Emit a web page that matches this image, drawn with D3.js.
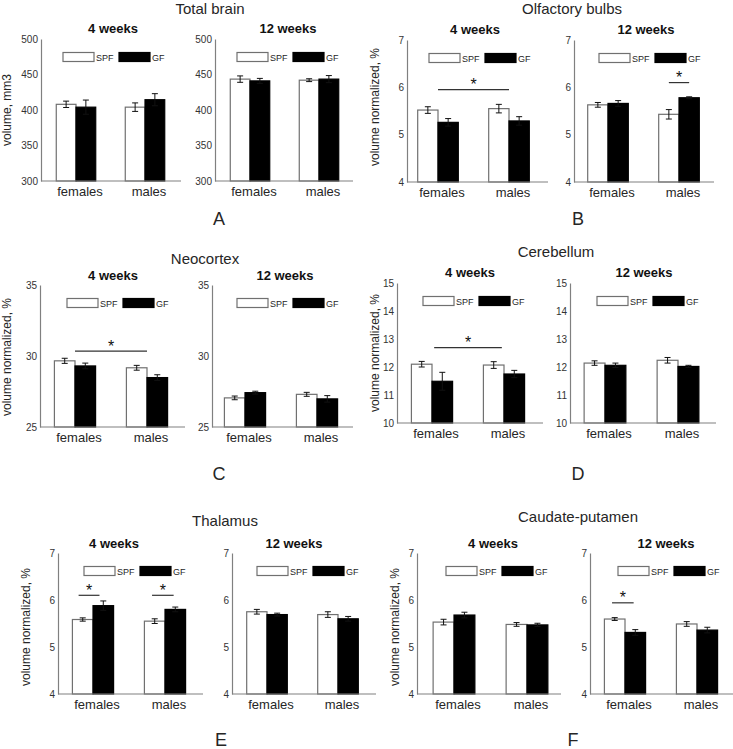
<!DOCTYPE html>
<html><head><meta charset="utf-8">
<script src="https://cdn.jsdelivr.net/npm/d3@7"></script>
<style>body{margin:0;background:#fff}svg{display:block;font-family:"Liberation Sans",Arial,sans-serif}</style>
</head><body>
<script>
// ---------- data ----------
const categories = ["females", "males"];
const seriesNames = ["SPF", "GF"];
const weekLabels = ["4 weeks", "12 weeks"];
const regionTitles = ["Total brain", "Olfactory bulbs", "Neocortex", "Cerebellum", "Thalamus", "Caudate-putamen"];
const panelLetters = ["A", "B", "C", "D", "E", "F"];
const yLabels = ["volume, mm3", "volume normalized, %", "volume normalized, %", "volume normalized, %", "volume normalized, %", "volume normalized, %"];

// y tick values
const totalBrainTicks = [300, 350, 400, 450, 500];
const olfactoryTicks = [4, 5, 6, 7];
const neocortexTicks = [25, 30, 35];
const cerebellumTicks = [10, 11, 12, 13, 14, 15];
const thalamusTicks = [4, 5, 6, 7];
const caudateTicks = [4, 5, 6, 7];

// means: rows = females, males ; cols = SPF, GF
const totalBrain4wMean = [[408, 404], [404, 414.5]];
const totalBrain4wErr = [[4.5, 10], [6, 8.5]];
const totalBrain12wMean = [[443.5, 441], [442, 443.5]];
const totalBrain12wErr = [[4.5, 3.5], [2, 5]];

const olfactory4wMean = [[5.52, 5.26], [5.55, 5.29]];
const olfactory4wErr = [[0.07, 0.08], [0.09, 0.09]];
const olfactory12wMean = [[5.63, 5.66], [5.43, 5.78]];
const olfactory12wErr = [[0.05, 0.06], [0.1, 0.02]];

const neocortex4wMean = [[29.66, 29.3], [29.17, 28.48]];
const neocortex4wErr = [[0.18, 0.2], [0.17, 0.2]];
const neocortex12wMean = [[27.05, 27.42], [27.3, 26.98]];
const neocortex12wErr = [[0.13, 0.1], [0.14, 0.23]];

const cerebellum4wMean = [[12.1, 11.49], [12.07, 11.75]];
const cerebellum4wErr = [[0.1, 0.32], [0.12, 0.13]];
const cerebellum12wMean = [[12.14, 12.06], [12.24, 12.02]];
const cerebellum12wErr = [[0.08, 0.08], [0.1, 0.04]];

const thalamus4wMean = [[5.585, 5.88], [5.55, 5.8]];
const thalamus4wErr = [[0.035, 0.1], [0.05, 0.05]];
const thalamus12wMean = [[5.75, 5.69], [5.69, 5.6]];
const thalamus12wErr = [[0.05, 0.03], [0.06, 0.05]];

const caudate4wMean = [[5.53, 5.68], [5.48, 5.47]];
const caudate4wErr = [[0.06, 0.06], [0.04, 0.035]];
const caudate12wMean = [[5.595, 5.31], [5.49, 5.36]];
const caudate12wErr = [[0.03, 0.06], [0.05, 0.06]];

// significance brackets: [x from, x to (category units, 1 = females, 2 = males), level]
const olfactory4wSig = [[1, 2, 5.95]];
const olfactory12wSig = [[1.857, 2.143, 6.1]];
const neocortex4wSig = [[1, 2, 30.34]];
const cerebellum4wSig = [[1.03, 1.97, 12.69]];
const thalamus4wSig = [[0.8, 1.09, 6.1], [1.82, 2.12, 6.1]];
const caudate12wSig = [[0.82, 1.12, 5.94]];

// ---------- layout (pixels) ----------
const regions = [
  {ticks: totalBrainTicks, data: [[totalBrain4wMean, totalBrain4wErr, []], [totalBrain12wMean, totalBrain12wErr, []]],
   top: 39, bottom: 181, axes: [[41, 181, 76, 145, 22], [215, 353, 250, 319, 22]],
   title: [210, 14], subs: [[113, 33], [288, 33]], letter: [219, 225], ylab: [11, 110]},
  {ticks: olfactoryTicks, data: [[olfactory4wMean, olfactory4wErr, olfactory4wSig], [olfactory12wMean, olfactory12wErr, olfactory12wSig]],
   top: 40, bottom: 182, axes: [[407, 548, 438, 509, 22], [574, 714, 608, 679, 25]],
   title: [572, 14], subs: [[475, 34], [646, 34]], letter: [578, 225], ylab: [379, 107]},
  {ticks: neocortexTicks, data: [[neocortex4wMean, neocortex4wErr, neocortex4wSig], [neocortex12wMean, neocortex12wErr, []]],
   top: 285, bottom: 427, axes: [[40, 185, 75, 147, 27], [212, 353, 245, 317, 25]],
   title: [205, 264], subs: [[113, 280], [285, 280]], letter: [219, 480], ylab: [11, 357]},
  {ticks: cerebellumTicks, data: [[cerebellum4wMean, cerebellum4wErr, cerebellum4wSig], [cerebellum12wMean, cerebellum12wErr, []]],
   top: 283, bottom: 423, axes: [[397, 543, 432, 504, 26], [570, 716, 605, 678, 27]],
   title: [556, 257], subs: [[470, 277], [644, 277]], letter: [578, 480], ylab: [379, 353]},
  {ticks: thalamusTicks, data: [[thalamus4wMean, thalamus4wErr, thalamus4wSig], [thalamus12wMean, thalamus12wErr, []]],
   top: 553, bottom: 694, axes: [[58, 203, 93, 165, 26], [232, 376, 267, 338, 25]],
   title: [225, 526], subs: [[114, 548], [294, 548]], letter: [221, 746], ylab: [30, 627]},
  {ticks: caudateTicks, data: [[caudate4wMean, caudate4wErr, []], [caudate12wMean, caudate12wErr, caudate12wSig]],
   top: 553, bottom: 694, axes: [[417, 561, 454, 527, 29], [590, 733, 625, 697, 28]],
   title: [578, 522], subs: [[493, 548], [666, 548]], letter: [573, 746], ylab: [399, 627]}
];

const W = 733, H = 749;
const svg = d3.select("body").append("svg").attr("width", W).attr("height", H);
const textColor = "#262626", axisColor = "#808080", outlineColor = "#707070";
const barFrac = 0.286;

regions.forEach((r, ri) => {
  const g = svg.append("g");
  g.append("text").attr("x", r.title[0]).attr("y", r.title[1]).attr("text-anchor", "middle")
    .attr("font-size", 15).attr("fill", textColor).text(regionTitles[ri]);
  g.append("text").attr("x", r.letter[0]).attr("y", r.letter[1]).attr("text-anchor", "middle")
    .attr("font-size", 18).attr("fill", textColor).text(panelLetters[ri]);
  g.append("text").attr("transform", `translate(${r.ylab[0]},${r.ylab[1]}) rotate(-90)`)
    .attr("text-anchor", "middle").attr("font-size", 12).attr("fill", textColor).text(yLabels[ri]);

  r.axes.forEach((ax, wi) => {
    const [x0, x1, c1, c2, legDx] = ax;
    const [means, errs, sigs] = r.data[wi];
    const ext = d3.extent(r.ticks);
    const y = d3.scaleLinear().domain(ext).range([r.bottom, r.top]);
    const x = d3.scaleLinear().domain([1, 2]).range([c1, c2]);
    const p = g.append("g");

    p.append("text").attr("x", r.subs[wi][0]).attr("y", r.subs[wi][1]).attr("text-anchor", "middle")
      .attr("font-size", 13).attr("font-weight", "bold").attr("fill", "#111").text(weekLabels[wi]);

    // y axis
    const yAxis = d3.axisLeft(y).tickValues(r.ticks).tickSize(0).tickPadding(3).tickFormat(d3.format("d"));
    const ya = p.append("g").attr("transform", `translate(${x0},0)`).call(yAxis);
    ya.select(".domain").attr("stroke", axisColor).attr("stroke-width", 1.2);
    ya.selectAll("text").attr("font-size", 10).attr("fill", "#333").attr("font-family", "Liberation Sans, Arial, sans-serif");

    // bars
    categories.forEach((cat, ci) => {
      const gc = ci + 1;
      seriesNames.forEach((s, si) => {
        const left = si === 0 ? gc - barFrac : gc;
        const m = means[ci][si];
        const bx = x(left), bw = x(left + barFrac) - x(left);
        p.append("rect").attr("x", bx).attr("y", y(m)).attr("width", bw).attr("height", y(ext[0]) - y(m))
          .attr("fill", si === 0 ? "#fff" : "#000")
          .attr("stroke", si === 0 ? outlineColor : "#000").attr("stroke-width", 1.2);
        const cx = x(left + barFrac / 2);
        const e = errs[ci][si];
        const eb = p.append("g").attr("stroke", "#111").attr("stroke-width", 1);
        eb.append("line").attr("x1", cx).attr("x2", cx).attr("y1", y(m - e)).attr("y2", y(m + e));
        eb.append("line").attr("x1", cx - 3).attr("x2", cx + 3).attr("y1", y(m + e)).attr("y2", y(m + e));
        eb.append("line").attr("x1", cx - 3).attr("x2", cx + 3).attr("y1", y(m - e)).attr("y2", y(m - e));
      });
      p.append("text").attr("x", x(gc) + 4).attr("y", r.bottom + 15).attr("text-anchor", "middle")
        .attr("font-size", 13).attr("fill", textColor).text(cat);
    });

    // x axis line
    p.append("line").attr("x1", x0).attr("x2", x1).attr("y1", r.bottom).attr("y2", r.bottom)
      .attr("stroke", axisColor).attr("stroke-width", 1.2);

    // legend
    const ly = r.top + 13.5;
    seriesNames.forEach((s, si) => {
      const lx = x0 + legDx + si * 56;
      p.append("rect").attr("x", lx).attr("y", ly).attr("width", 31).attr("height", 9)
        .attr("fill", si === 0 ? "#fff" : "#000").attr("stroke", si === 0 ? outlineColor : "#000").attr("stroke-width", 1.2);
      p.append("text").attr("x", lx + 33).attr("y", ly + 8.5).attr("font-size", 9).attr("fill", textColor).text(s);
    });

    // significance
    sigs.forEach(sg => {
      const yy = y(sg[2]);
      p.append("line").attr("x1", x(sg[0])).attr("x2", x(sg[1])).attr("y1", yy).attr("y2", yy)
        .attr("stroke", "#333").attr("stroke-width", 1.2);
      p.append("text").attr("x", (x(sg[0]) + x(sg[1])) / 2).attr("y", yy + 0.5).attr("text-anchor", "middle")
        .attr("font-size", 16).attr("fill", "#111").text("*");
    });
  });
});
</script>
</body></html>
